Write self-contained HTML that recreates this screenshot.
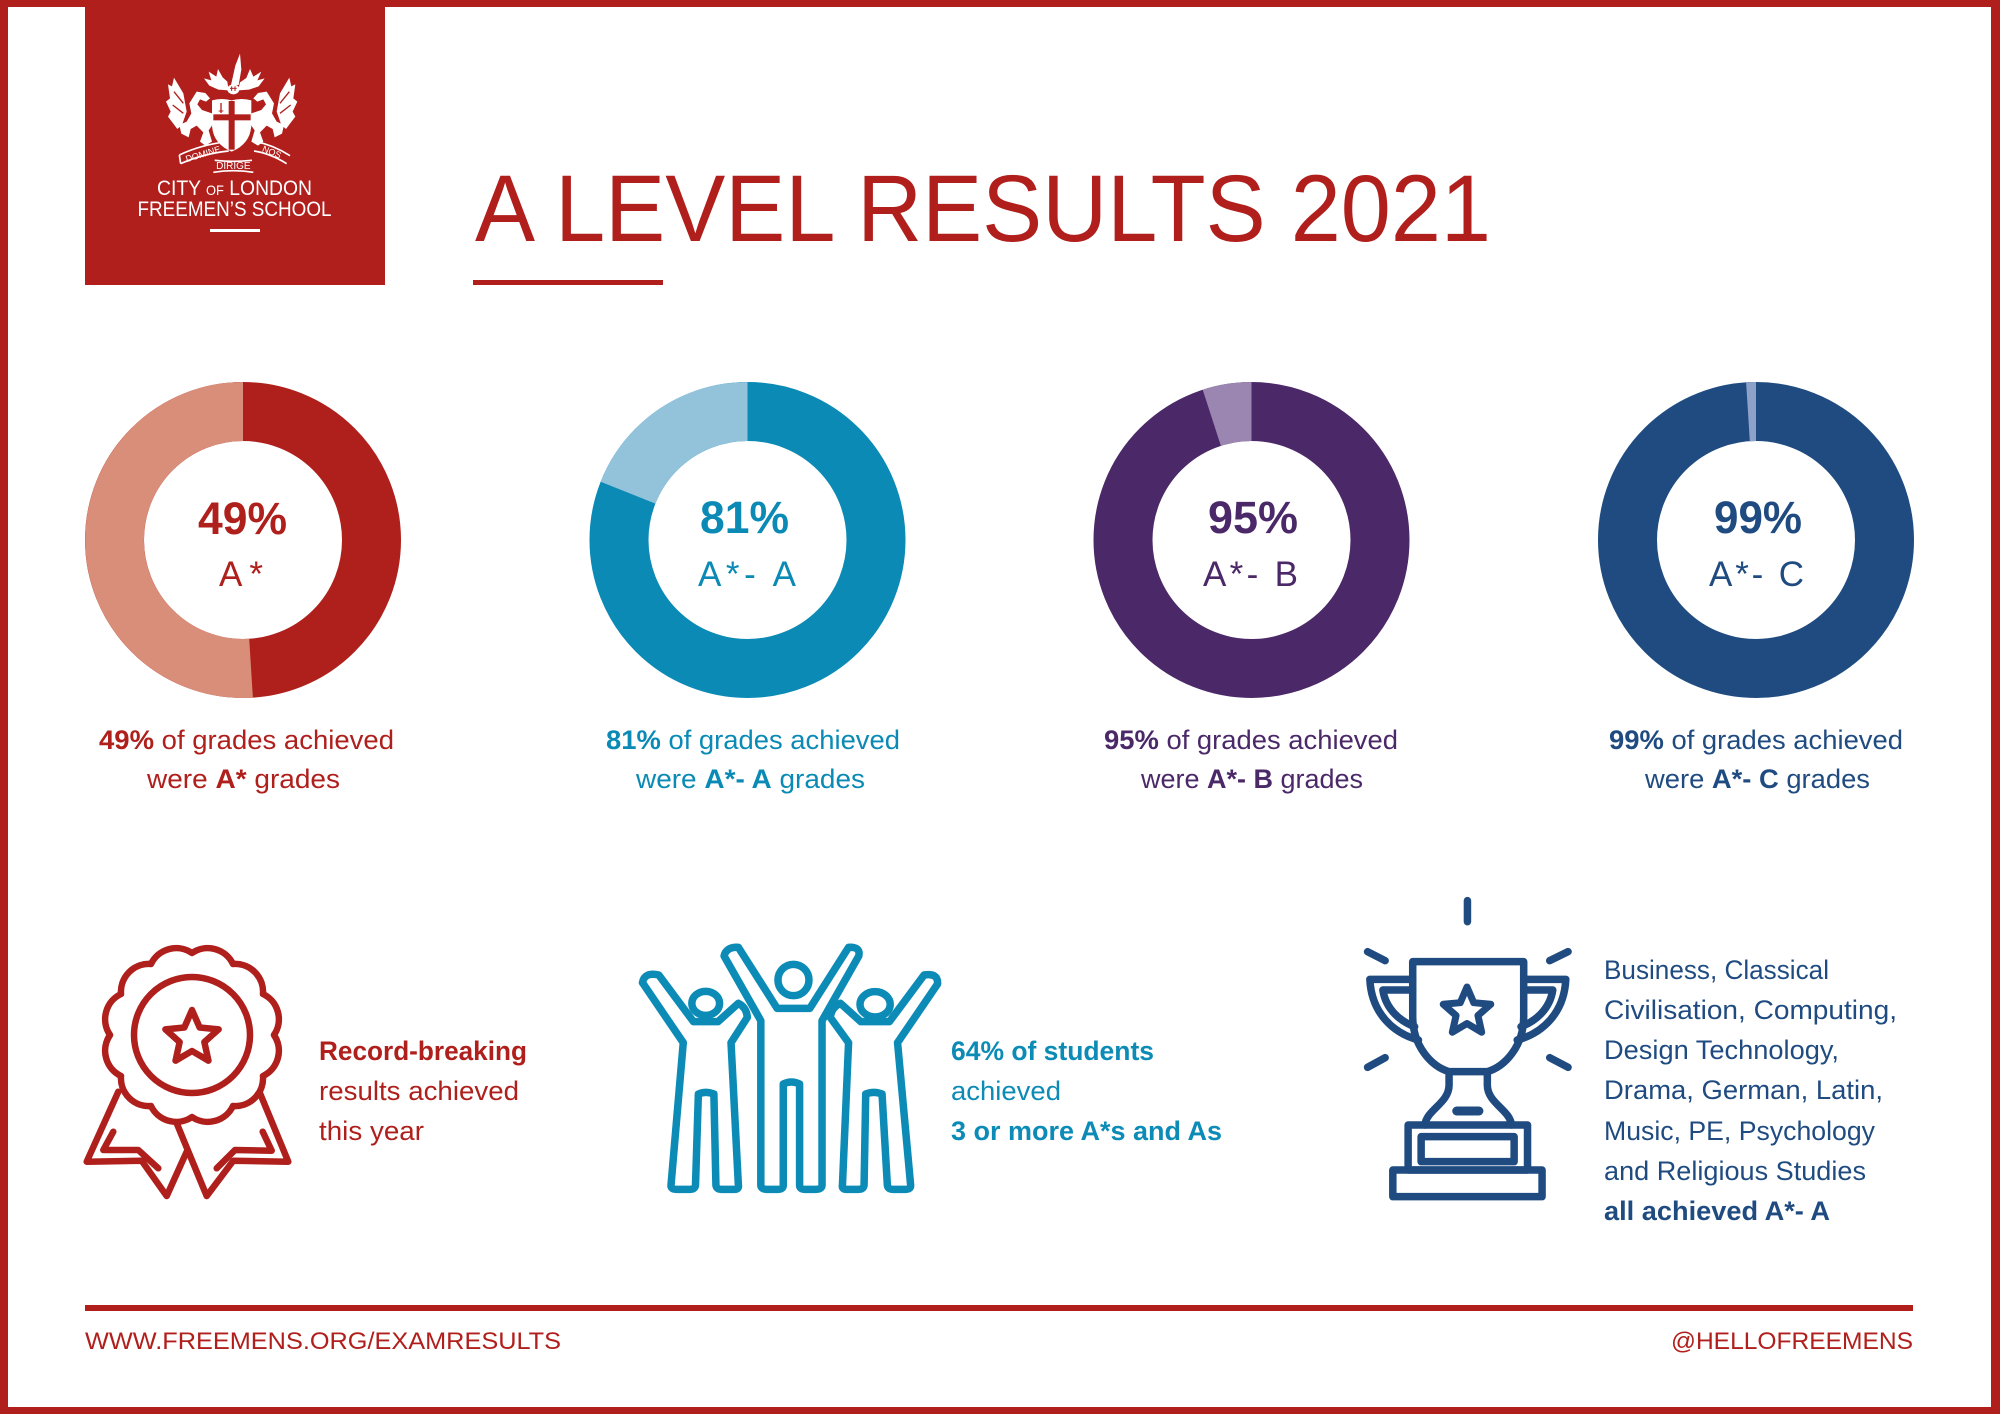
<!DOCTYPE html>
<html>
<head>
<meta charset="utf-8">
<style>
  html, body { margin: 0; padding: 0; background: #ffffff; }
  svg { display: block; }
</style>
</head>
<body>
<svg width="2000" height="1414" viewBox="0 0 2000 1414" xmlns="http://www.w3.org/2000/svg" font-family="'Liberation Sans', Arial, sans-serif">
  <rect x="0" y="0" width="2000" height="1414" fill="#ffffff"/>

  <!-- Page border -->
  <rect x="0" y="0" width="2000" height="7" fill="#B01F1C"/>
  <rect x="0" y="0" width="8" height="1414" fill="#B01F1C"/>
  <rect x="1991" y="0" width="9" height="1414" fill="#B01F1C"/>
  <rect x="0" y="1407" width="2000" height="7" fill="#B01F1C"/>

  <!-- Logo box -->
  <rect x="85" y="0" width="300" height="285" fill="#B01F1C"/>
  <g transform="translate(150,45) scale(0.33333)">
    <!-- crest spike -->
    <polygon points="243,120 256,62 270,26 274,74 266,120" fill="#fff"/>
    <!-- mantling left -->
    <polygon points="236,136 205,134 178,122 162,100 184,106 176,80 199,95 204,72 218,97 232,110" fill="#fff"/>
    <polygon points="264,136 297,134 326,124 344,100 322,106 334,80 310,95 300,72 289,99 270,112" fill="#fff"/>
    <!-- helmet -->
    <ellipse cx="250" cy="133" rx="18" ry="15" fill="#fff"/>
    <line x1="240" y1="130" x2="260" y2="130" stroke="#B01F1C" stroke-width="3"/>
    <line x1="245" y1="124" x2="245" y2="138" stroke="#B01F1C" stroke-width="3"/>
    <line x1="255" y1="124" x2="255" y2="138" stroke="#B01F1C" stroke-width="3"/>
    <!-- left dragon -->
    <g>
      <polygon points="100,145 72,98 66,124 54,118 60,160 48,170 62,200 54,215 70,236 82,252 96,240 110,200" fill="#fff"/>
      <path d="M140,140 L166,144 L180,160 L168,170 L150,163 L142,178 L156,195 L186,205 L190,236 L176,256 L186,290 L166,302 L150,290 L160,262 L140,242 L122,252 L116,277 L94,266 L88,240 L110,230 L124,205 L118,175 Z" fill="#fff"/>
      <line x1="72" y1="140" x2="100" y2="175" stroke="#B01F1C" stroke-width="4"/>
      <line x1="68" y1="180" x2="100" y2="205" stroke="#B01F1C" stroke-width="4"/>
    </g>
    <g transform="translate(490,0) scale(-1,1)">
      <polygon points="100,145 72,98 66,124 54,118 60,160 48,170 62,200 54,215 70,236 82,252 96,240 110,200" fill="#fff"/>
      <path d="M140,140 L166,144 L180,160 L168,170 L150,163 L142,178 L156,195 L186,205 L190,236 L176,256 L186,290 L166,302 L150,290 L160,262 L140,242 L122,252 L116,277 L94,266 L88,240 L110,230 L124,205 L118,175 Z" fill="#fff"/>
      <line x1="72" y1="140" x2="100" y2="175" stroke="#B01F1C" stroke-width="4"/>
      <line x1="68" y1="180" x2="100" y2="205" stroke="#B01F1C" stroke-width="4"/>
    </g>
    <!-- shield -->
    <path d="M186,166 Q215,158 245,166 Q275,158 304,166 L304,240 Q302,296 245,320 Q188,296 186,240 Z" fill="#fff"/>
    <rect x="236" y="168" width="18" height="146" fill="#B01F1C"/>
    <rect x="190" y="208" width="112" height="18" fill="#B01F1C"/>
    <line x1="213" y1="174" x2="213" y2="204" stroke="#B01F1C" stroke-width="4"/>
    <line x1="206" y1="198" x2="220" y2="198" stroke="#B01F1C" stroke-width="3"/>
    <!-- scrolls -->
    <path d="M88,330 Q150,300 230,290 M92,356 Q160,326 236,318 M88,330 L92,356" stroke="#fff" stroke-width="5" fill="none"/>
    <text x="160" y="336" font-size="27" fill="#fff" text-anchor="middle" transform="rotate(-17 160 330)">DOMINE</text>
    <path d="M194,346 Q250,352 306,346 M190,382 Q250,372 310,382" stroke="#fff" stroke-width="5" fill="none"/>
    <text x="250" y="372" font-size="30" fill="#fff" text-anchor="middle">DIRIGE</text>
    <path d="M318,290 Q370,300 420,332 M312,318 Q360,325 410,356" stroke="#fff" stroke-width="5" fill="none"/>
    <text x="365" y="330" font-size="27" fill="#fff" text-anchor="middle" transform="rotate(22 365 322)">NOS</text>
  </g>
  <text x="157" y="195" font-size="21" fill="#fff" textLength="155" lengthAdjust="spacingAndGlyphs">CITY <tspan font-size="14">OF</tspan> LONDON</text>
  <text x="137.5" y="216" font-size="21" fill="#fff" textLength="194" lengthAdjust="spacingAndGlyphs">FREEMEN’S SCHOOL</text>
  <rect x="210" y="229" width="50" height="3" fill="#fff"/>

  <!-- Title -->
  <text x="475" y="241" font-size="95" fill="#B01F1C" textLength="1016" lengthAdjust="spacingAndGlyphs">A LEVEL RESULTS 2021</text>
  <rect x="473" y="280" width="190" height="5" fill="#B01F1C"/>

  <!-- Donut 1 -->
  <circle cx="243" cy="540" r="128.5" fill="none" stroke="#AF1F1C" stroke-width="59"/>
  <path d="M252.9,697.7 A158,158 0 1 1 243,382 L243,441 A99,99 0 1 0 249.2,638.8 Z" fill="#D98E79"/>
  <text x="198" y="534" font-size="45" font-weight="bold" fill="#AF1F1C" textLength="89" lengthAdjust="spacingAndGlyphs">49%</text>
  <text x="219" y="586" font-size="35" fill="#AF1F1C" textLength="44" lengthAdjust="spacing">A*</text>

  <!-- Donut 2 -->
  <circle cx="747.5" cy="540" r="128.5" fill="none" stroke="#0A8AB5" stroke-width="59"/>
  <path d="M600.6,481.8 A158,158 0 0 1 747.5,382 L747.5,441 A99,99 0 0 0 655.4,503.6 Z" fill="#93C2DB"/>
  <text x="700" y="533" font-size="45" font-weight="bold" fill="#0A8AB5" textLength="89" lengthAdjust="spacingAndGlyphs">81%</text>
  <text x="698" y="586" font-size="35" fill="#0A8AB5" textLength="98" lengthAdjust="spacing">A*- A</text>

  <!-- Donut 3 -->
  <circle cx="1251.5" cy="540" r="128.5" fill="none" stroke="#4B2868" stroke-width="59"/>
  <path d="M1202.7,389.7 A158,158 0 0 1 1251.5,382 L1251.5,441 A99,99 0 0 0 1220.9,445.9 Z" fill="#9B86B1"/>
  <text x="1208" y="533" font-size="45" font-weight="bold" fill="#4B2868" textLength="90" lengthAdjust="spacingAndGlyphs">95%</text>
  <text x="1203" y="586" font-size="35" fill="#4B2868" textLength="95" lengthAdjust="spacing">A*- B</text>

  <!-- Donut 4 -->
  <circle cx="1756" cy="540" r="128.5" fill="none" stroke="#1F4B80" stroke-width="59"/>
  <path d="M1746.1,382.3 A158,158 0 0 1 1756,382 L1756,441 A99,99 0 0 0 1749.8,441.2 Z" fill="#8EA2C9"/>
  <text x="1714" y="533" font-size="45" font-weight="bold" fill="#1F4B80" textLength="88" lengthAdjust="spacingAndGlyphs">99%</text>
  <text x="1709" y="586" font-size="35" fill="#1F4B80" textLength="95" lengthAdjust="spacing">A*- C</text>

  <!-- Captions -->
  <g font-size="27">
    <text x="99" y="749" fill="#AF1F1C" textLength="295" lengthAdjust="spacingAndGlyphs"><tspan font-weight="bold">49%</tspan> of grades achieved</text>
    <text x="147" y="788" fill="#AF1F1C" textLength="193" lengthAdjust="spacingAndGlyphs">were <tspan font-weight="bold">A*</tspan> grades</text>

    <text x="606" y="749" fill="#0A8AB5" textLength="294" lengthAdjust="spacingAndGlyphs"><tspan font-weight="bold">81%</tspan> of grades achieved</text>
    <text x="636" y="788" fill="#0A8AB5" textLength="229" lengthAdjust="spacingAndGlyphs">were <tspan font-weight="bold">A*- A</tspan> grades</text>

    <text x="1104" y="749" fill="#4B2868" textLength="294" lengthAdjust="spacingAndGlyphs"><tspan font-weight="bold">95%</tspan> of grades achieved</text>
    <text x="1141" y="788" fill="#4B2868" textLength="222" lengthAdjust="spacingAndGlyphs">were <tspan font-weight="bold">A*- B</tspan> grades</text>

    <text x="1609" y="749" fill="#1F4B80" textLength="294" lengthAdjust="spacingAndGlyphs"><tspan font-weight="bold">99%</tspan> of grades achieved</text>
    <text x="1645" y="788" fill="#1F4B80" textLength="225" lengthAdjust="spacingAndGlyphs">were <tspan font-weight="bold">A*- C</tspan> grades</text>
  </g>

  <!-- Rosette icon -->
  <g fill="none" stroke="#AF1F1C" stroke-width="6.5" stroke-linejoin="round" stroke-linecap="round">
    <path d="M274,1035 A28,28 0 0 1 263,1076 A28,28 0 0 1 233,1106 A28,28 0 0 1 192,1117 A28,28 0 0 1 151,1106 A28,28 0 0 1 121,1076 A28,28 0 0 1 110,1035 A28,28 0 0 1 121,994 A28,28 0 0 1 151,964 A28,28 0 0 1 192,953 A28,28 0 0 1 233,964 A28,28 0 0 1 263,994 A28,28 0 0 1 274,1035 Z"/>
    <circle cx="192" cy="1035" r="58"/>
    <polygon points="192,1010 199.64,1027.48 218.63,1029.35 204.36,1042.02 208.46,1060.65 192,1051 175.54,1060.65 179.64,1042.02 165.37,1029.35 184.36,1027.48"/>
    <polyline points="118.3,1091.7 86.7,1161.7 141.7,1160.7 166.7,1196 186.7,1151.7"/>
    <polyline points="176.7,1123.3 206.7,1196 233.3,1160.7 288.3,1161.7 260,1093.3"/>
    <polyline points="113.3,1131.7 103.3,1150 138.3,1150 158.3,1168.3"/>
    <polyline points="262.7,1131.7 271.7,1150.7 235,1150 216.7,1168.3"/>
  </g>
  <g font-size="27" fill="#AF1F1C">
    <text x="319" y="1060" font-weight="bold" textLength="208" lengthAdjust="spacingAndGlyphs">Record-breaking</text>
    <text x="319" y="1100" textLength="200" lengthAdjust="spacingAndGlyphs">results achieved</text>
    <text x="319" y="1140" textLength="105" lengthAdjust="spacingAndGlyphs">this year</text>
  </g>

  <!-- People icon -->
  <g transform="translate(620,920) scale(0.408163,0.333333)" fill="none" stroke="#0B8BB6" stroke-linejoin="round">
    <ellipse cx="425" cy="180" rx="38" ry="47" stroke-width="7.5" vector-effect="non-scaling-stroke"/>
    <ellipse cx="210" cy="250" rx="34" ry="36" stroke-width="7.5" vector-effect="non-scaling-stroke"/>
    <ellipse cx="625" cy="253" rx="37" ry="38" stroke-width="7.5" vector-effect="non-scaling-stroke"/>
    <path stroke-width="7.5" vector-effect="non-scaling-stroke" d="M255,108 L345,302 L345,795 Q345,808 360,808 L388,808 Q400,808 400,795 L400,492 Q420,480 440,492 L440,795 Q440,808 452,808 L480,808 Q495,808 495,795 L495,302 L585,108 Q590,80 560,82 L465,265 L385,265 L290,82 Q260,80 255,108 Z"/>
    <path stroke-width="7.5" vector-effect="non-scaling-stroke" d="M55,188 L155,368 L125,795 Q124,808 138,808 L172,808 Q184,808 185,795 L192,522 Q210,512 230,522 L235,795 Q236,808 248,808 L280,808 Q292,808 290,795 L272,368 L312,292 Q310,262 290,250 L240,305 L180,305 L95,165 Q60,155 55,188 Z"/>
    <path stroke-width="7.5" vector-effect="non-scaling-stroke" d="M778,192 L680,368 L712,795 Q713,808 700,808 L668,808 Q656,808 655,795 L642,522 Q622,512 602,522 L598,795 Q597,808 585,808 L555,808 Q543,808 545,795 L560,368 L515,292 Q518,262 540,250 L590,305 L660,305 L745,165 Q780,158 778,192 Z"/>
  </g>
  <g font-size="27" fill="#0B8BB6">
    <text x="951" y="1060" font-weight="bold" textLength="203" lengthAdjust="spacingAndGlyphs">64% of students</text>
    <text x="951" y="1100" textLength="110" lengthAdjust="spacingAndGlyphs">achieved</text>
    <text x="951" y="1140" font-weight="bold" textLength="271" lengthAdjust="spacingAndGlyphs">3 or more A*s and As</text>
  </g>

  <!-- Trophy icon -->
  <g transform="translate(1340,890) scale(0.382702,0.333333)" fill="none" stroke="#1F4B80" stroke-linejoin="round" stroke-linecap="round">
    <line x1="333" y1="32" x2="333" y2="95" stroke-width="7.5" vector-effect="non-scaling-stroke"/>
    <line x1="72" y1="185" x2="118" y2="212" stroke-width="7.5" vector-effect="non-scaling-stroke"/>
    <line x1="548" y1="212" x2="596" y2="185" stroke-width="7.5" vector-effect="non-scaling-stroke"/>
    <line x1="72" y1="532" x2="118" y2="503" stroke-width="7.5" vector-effect="non-scaling-stroke"/>
    <line x1="548" y1="503" x2="596" y2="532" stroke-width="7.5" vector-effect="non-scaling-stroke"/>
    <path stroke-width="7.5" vector-effect="non-scaling-stroke" d="M190,215 H480 V380 C480,470 430,530 385,545 H285 C240,530 190,470 190,380 Z"/>
    <path stroke-width="7.5" vector-effect="non-scaling-stroke" d="M285,545 V585 C285,640 225,660 222,705 M385,545 V585 C385,640 445,660 448,705"/>
    <path stroke-width="7.5" vector-effect="non-scaling-stroke" d="M190,268 H78 C82,370 140,430 205,450 M190,300 H112 C120,360 160,395 195,410"/>
    <path stroke-width="7.5" vector-effect="non-scaling-stroke" d="M480,268 H590 C586,370 528,430 463,450 M480,300 H556 C548,360 508,395 473,410"/>
    <line x1="305" y1="663" x2="363" y2="663" stroke-width="9" vector-effect="non-scaling-stroke"/>
    <rect x="178" y="705" width="312" height="135" stroke-width="7.5" vector-effect="non-scaling-stroke"/>
    <rect x="212" y="740" width="243" height="75" stroke-width="7.5" vector-effect="non-scaling-stroke"/>
    <rect x="138" y="840" width="390" height="80" stroke-width="7.5" vector-effect="non-scaling-stroke"/>
  </g>
  <polygon points="1467,987 1473.76,1002.7 1490.78,1004.27 1477.94,1015.55 1481.69,1032.23 1467,1023.5 1452.31,1032.23 1456.06,1015.55 1443.22,1004.27 1460.24,1002.7" fill="none" stroke="#1F4B80" stroke-width="7" stroke-linejoin="round"/>

  <g font-size="27" fill="#1F4B80">
    <text x="1604" y="979" textLength="225" lengthAdjust="spacingAndGlyphs">Business, Classical</text>
    <text x="1604" y="1019" textLength="293" lengthAdjust="spacingAndGlyphs">Civilisation, Computing,</text>
    <text x="1604" y="1059" textLength="235" lengthAdjust="spacingAndGlyphs">Design Technology,</text>
    <text x="1604" y="1099" textLength="279" lengthAdjust="spacingAndGlyphs">Drama, German, Latin,</text>
    <text x="1604" y="1140" textLength="271" lengthAdjust="spacingAndGlyphs">Music, PE, Psychology</text>
    <text x="1604" y="1180" textLength="262" lengthAdjust="spacingAndGlyphs">and Religious Studies</text>
    <text x="1604" y="1220" font-weight="bold" textLength="226" lengthAdjust="spacingAndGlyphs">all achieved A*- A</text>
  </g>

  <!-- Footer -->
  <rect x="85" y="1305" width="1828" height="6" fill="#B01F1C"/>
  <text x="85" y="1349" font-size="24" fill="#B01F1C" textLength="476" lengthAdjust="spacingAndGlyphs">WWW.FREEMENS.ORG/EXAMRESULTS</text>
  <text x="1671" y="1349" font-size="24" fill="#B01F1C" textLength="242" lengthAdjust="spacingAndGlyphs">@HELLOFREEMENS</text>
</svg>
</body>
</html>
